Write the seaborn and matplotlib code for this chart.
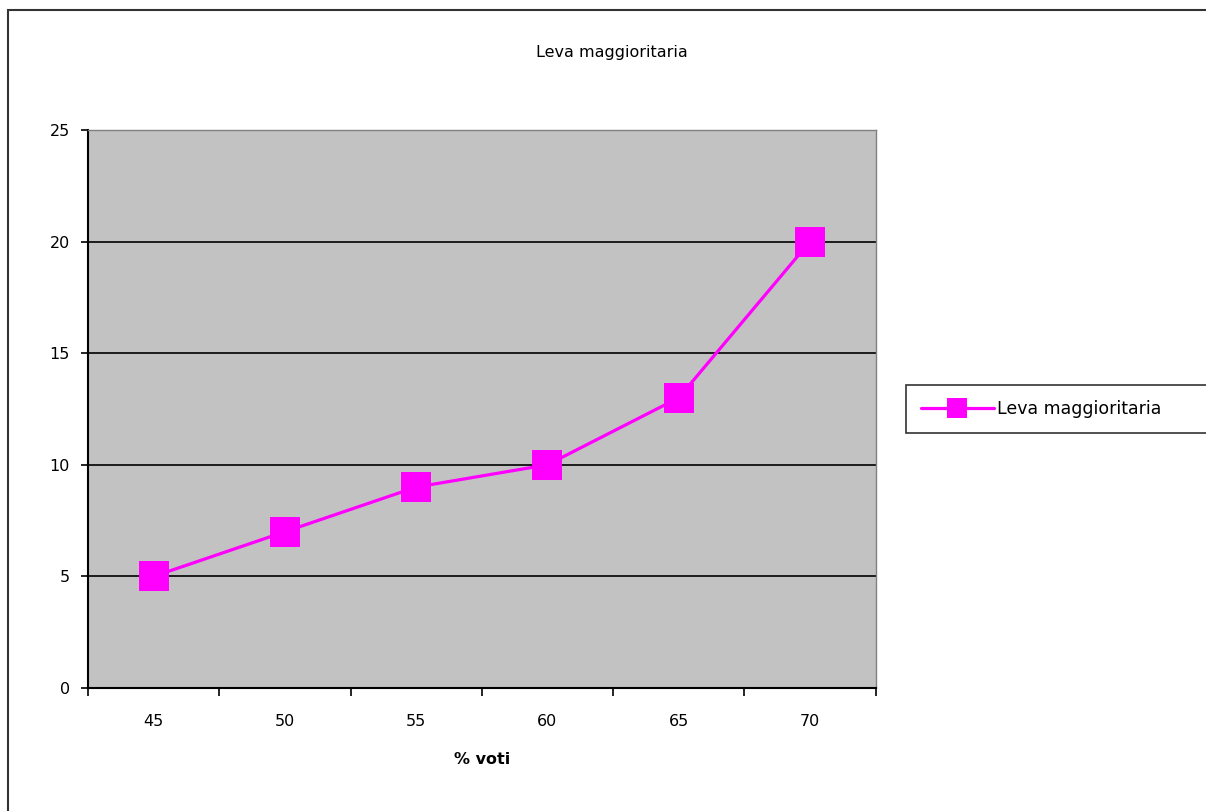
import numpy as np
import matplotlib
matplotlib.use("Agg")
import matplotlib.pyplot as plt
import seaborn as sns
from matplotlib.patches import Rectangle

# data
categories = ["45", "50", "55", "60", "65", "70"]
leva = [5, 7, 9, 10, 13, 20]
series_name = "Leva maggioritaria"
y_ticks = [0, 5, 10, 15, 20, 25]


def main():
    sns.set_style("white")
    plt.rcParams["font.family"] = ["DejaVu Sans"]
    plt.rcParams["text.color"] = "black"
    plt.rcParams["xtick.color"] = "black"
    plt.rcParams["ytick.color"] = "black"
    plt.rcParams["axes.labelcolor"] = "black"

    fig = plt.figure(figsize=(12.06, 8.11), dpi=100)
    ax = fig.add_axes([0.073, 0.1517, 0.653, 0.688])
    ax.set_facecolor("#c2c2c2")

    pos = np.arange(len(categories))
    sns.lineplot(
        x=pos, y=leva, ax=ax, color="#ff00ff", linewidth=2.3,
        marker="s", markersize=21, markeredgewidth=0,
        label=series_name, zorder=3,
    )

    # excel-style category axis: ticks between categories
    ax.set_xlim(-0.5, len(categories) - 0.5)
    ax.set_xticks(np.arange(-0.5, len(categories)), labels=[""] * (len(categories) + 1))
    ax.set_xticks(pos, labels=categories, minor=True)
    ax.tick_params(axis="x", which="major", direction="out", length=6, width=1.2)
    ax.tick_params(axis="x", which="minor", length=0, pad=19, labelsize=11.5)

    ax.set_ylim(0, 25)
    ax.set_yticks(y_ticks)
    ax.tick_params(axis="y", direction="out", length=5, width=1.2, labelsize=11.5, pad=8)
    ax.yaxis.set_ticks_position("left")
    ax.xaxis.set_ticks_position("bottom")

    for v in y_ticks[1:-1]:
        ax.axhline(v, color="black", linewidth=1.2, zorder=1)

    for side in ["left", "bottom"]:
        ax.spines[side].set_color("black")
        ax.spines[side].set_linewidth(1.5)
    for side in ["top", "right"]:
        ax.spines[side].set_color("#808080")
        ax.spines[side].set_linewidth(1.0)

    ax.set_xlabel("% voti", fontsize=11.5, fontweight="bold", labelpad=16)
    ax.set_ylabel("")

    fig.text(0.507, 0.935, "Leva maggioritaria", ha="center", va="center", fontsize=11.5)

    leg = ax.legend(
        loc="center left", bbox_to_anchor=(1.039, 0.5, 0.4, 0.0), mode="expand",
        frameon=True, fancybox=False, edgecolor="black", fontsize=12.5,
        markerscale=0.68, handlelength=4.2, borderpad=0.85, handletextpad=0.2,
        borderaxespad=0.0,
    )
    leg.get_frame().set_linewidth(1.2)

    # outer chart border
    fig.patches.append(Rectangle(
        (8 / 1206, -0.05), 1.2, 1.05 - 10 / 811, transform=fig.transFigure,
        fill=False, edgecolor="#333333", linewidth=1.5,
    ))

    fig.savefig("out.png", dpi=100)


if __name__ == "__main__":
    main()
